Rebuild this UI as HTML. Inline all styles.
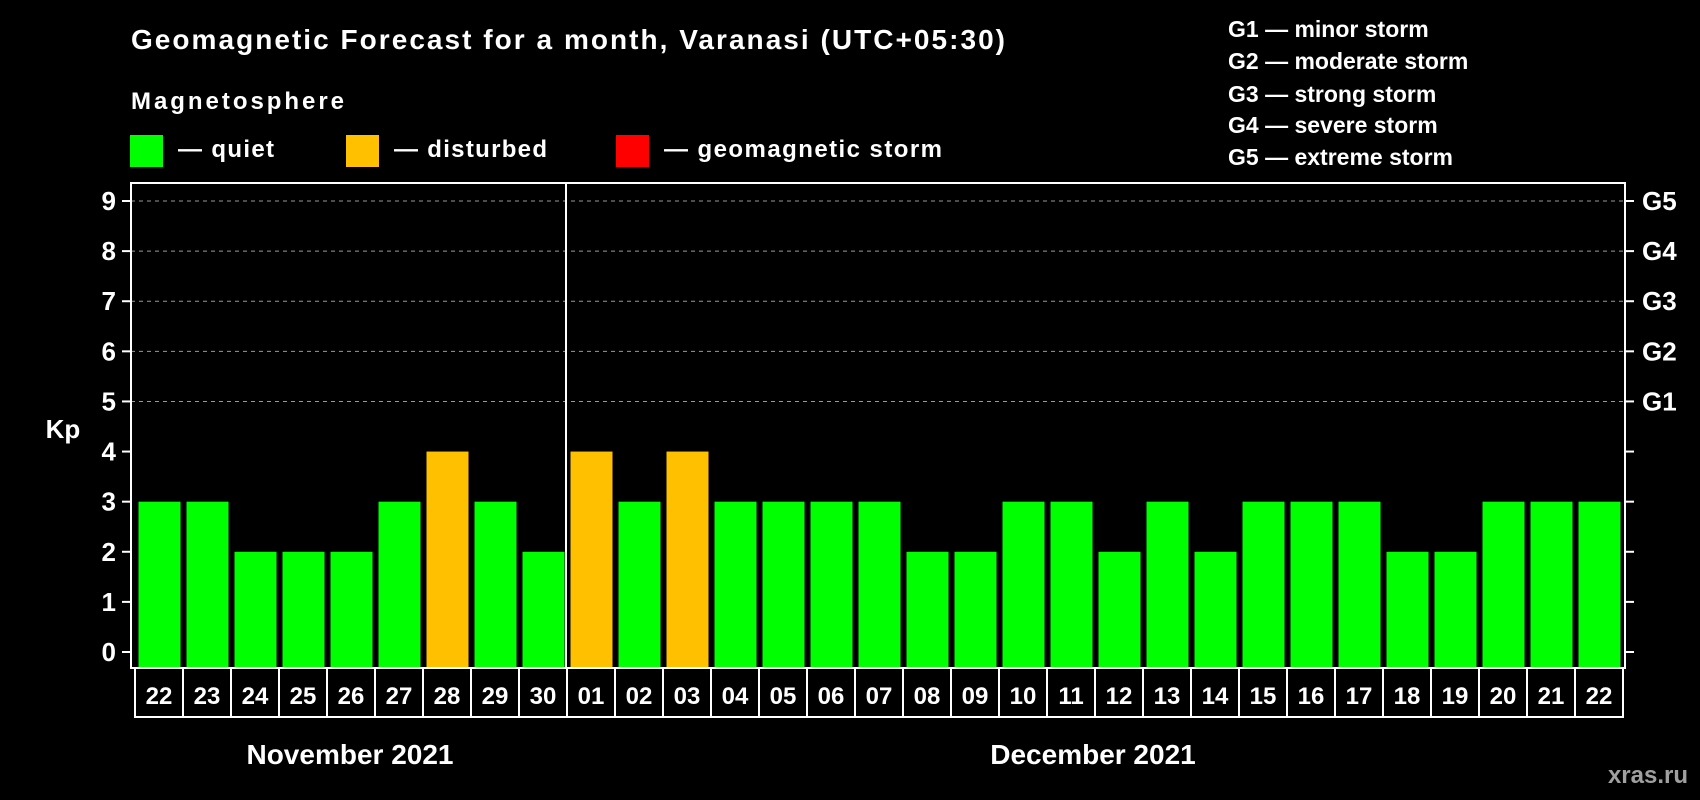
<!DOCTYPE html>
<html><head><meta charset="utf-8"><style>
html,body{margin:0;padding:0;background:#000;}
svg{display:block;font-family:"Liberation Sans",sans-serif;font-weight:bold;}
</style></head><body>
<svg id="chart" width="1700" height="800" xmlns="http://www.w3.org/2000/svg">
<rect width="1700" height="800" fill="#000"/>
<text x="131" y="49" fill="#fff" font-size="28" textLength="874">Geomagnetic Forecast for a month, Varanasi (UTC+05:30)</text>
<text x="131" y="109" fill="#fff" font-size="24" textLength="213">Magnetosphere</text>
<g><rect x="130" y="135" width="33" height="32" fill="#00ff00"/><text x="178" y="157" fill="#fff" font-size="24" textLength="96">— quiet</text></g>
<g><rect x="346" y="135" width="33" height="32" fill="#ffc000"/><text x="394" y="157" fill="#fff" font-size="24" textLength="153">— disturbed</text></g>
<g><rect x="616" y="135" width="33" height="32" fill="#ff0000"/><text x="664" y="157" fill="#fff" font-size="24" textLength="278">— geomagnetic storm</text></g>
<g fill="#fff" font-size="23">
<text x="1228" y="37">G1 — minor storm</text>
<text x="1228" y="69">G2 — moderate storm</text>
<text x="1228" y="102">G3 — strong storm</text>
<text x="1228" y="133">G4 — severe storm</text>
<text x="1228" y="165">G5 — extreme storm</text>
</g>
<text x="63" y="438" fill="#fff" font-size="26" text-anchor="middle">Kp</text>
<g id="plot"></g>
<text x="350" y="764" fill="#fff" font-size="28" text-anchor="middle">November 2021</text>
<text x="1093" y="764" fill="#fff" font-size="28" text-anchor="middle">December 2021</text>
<text x="1688" y="783" fill="#a0a0a0" font-size="24" text-anchor="end">xras.ru</text>
</svg>
<script>
const days = ["22","23","24","25","26","27","28","29","30","01","02","03","04","05","06","07","08","09","10","11","12","13","14","15","16","17","18","19","20","21","22"];
const kp = [3,3,2,2,2,3,4,3,2,4,3,4,3,3,3,3,2,2,3,3,2,3,2,3,3,3,2,2,3,3,3];
const yTicks = [0,1,2,3,4,5,6,7,8,9];
const gLabels = ["G1","G2","G3","G4","G5"];
const gLevels = [5,6,7,8,9];
const monthBreakIndex = 9;

const NS="http://www.w3.org/2000/svg";
const g=document.getElementById('plot');
const L=131,R=1625,T=183,B=668;
const y=v=>652-v*(652-201)/9;
const slot=48, x0=135;
const xs=i=>x0+i*slot;
function mk(t,a){const e=document.createElementNS(NS,t);for(const k in a)e.setAttribute(k,a[k]);g.appendChild(e);return e;}
// grid
gLevels.forEach(v=>{
  const l=mk('line',{x1:L,x2:R,y1:y(v),y2:y(v),stroke:'#999','stroke-dasharray':'4,4','stroke-width':1});
  
  
});
// bars
kp.forEach((v,i)=>{
  const c=v>=5?'#ff0000':(v>=4?'#ffc000':'#00ff00');
  const r=mk('rect',{x:xs(i)+3.5,y:y(v),width:42,height:B-y(v),fill:c});
  
  
});
// frame
const f=mk('rect',{x:L,y:T,width:R-L,height:B-T,fill:'none',stroke:'#fff','stroke-width':2});


const dv=mk('line',{x1:xs(monthBreakIndex)-1,x2:xs(monthBreakIndex)-1,y1:T,y2:B,stroke:'#fff','stroke-width':2});


// y ticks
yTicks.forEach(v=>{
  mk('line',{x1:L-9,x2:L,y1:y(v),y2:y(v),stroke:'#fff','stroke-width':2});
  mk('line',{x1:R,x2:R+9,y1:y(v),y2:y(v),stroke:'#fff','stroke-width':2});
  const t=mk('text',{x:116,y:y(v)+9,fill:'#fff','font-size':26,'text-anchor':'end'});
  t.textContent=v;
  
  
});
gLabels.forEach((s,i)=>{
  const t=mk('text',{x:1642,y:y(gLevels[i])+9,fill:'#fff','font-size':26});
  t.textContent=s;
  
  
});
// day label boxes
days.forEach((d,i)=>{
  const r=mk('rect',{x:xs(i),y:B,width:slot,height:49,fill:'none',stroke:'#fff','stroke-width':2});
  
  
  const t=mk('text',{x:xs(i)+slot/2,y:B+36,fill:'#fff','font-size':24,'text-anchor':'middle'});
  t.textContent=d;
  
  
});
</script>
</body></html>
